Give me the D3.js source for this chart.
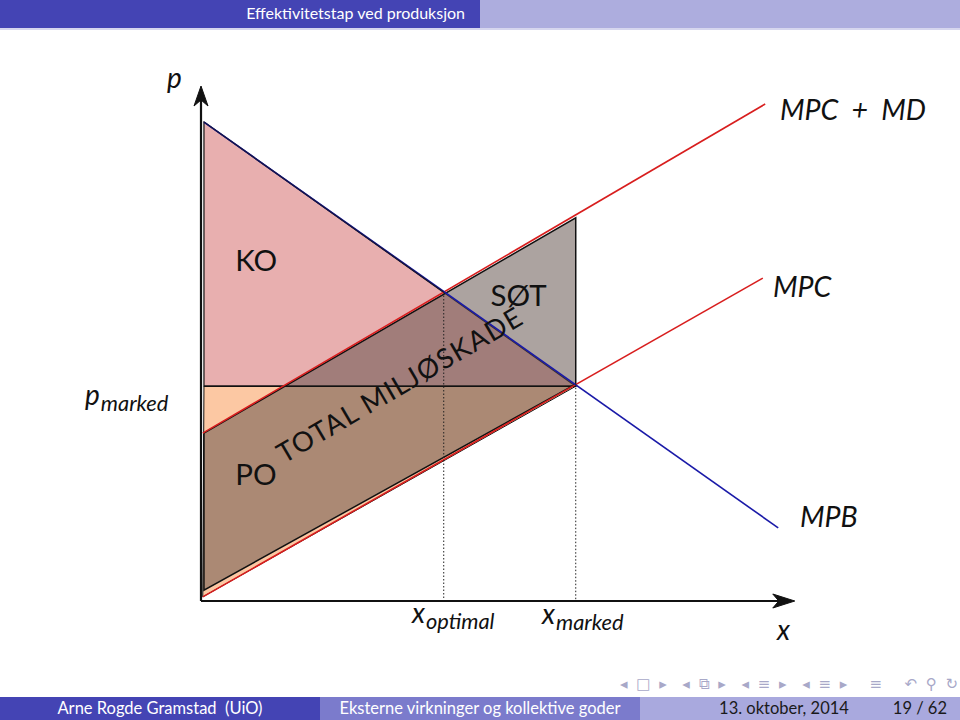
<!DOCTYPE html>
<html>
<head>
<meta charset="utf-8">
<script src="https://cdn.jsdelivr.net/npm/d3@7"></script>
<style>
  body { margin: 0; background: #fff; }
  svg { display: block; font-family: Lato, "Open Sans", sans-serif; }
</style>
</head>
<body>
<svg width="960" height="720"></svg>
<script>
// key points (quantity, price)
var mpb = [[0.05, 9.30], [9.75, 1.42]];
var mpc = [[0.03, 0.08], [9.49, 6.27]];
var mpcMd = [[0.03, 3.26], [9.53, 9.65]];
var xOptimal = 4.10, xMarked = 6.33, pMarked = 4.17;
var optPoint = [4.10, 6.00];
var mktPoint = [6.33, 4.21];

// areas
var koArea = [[0.05, 9.30], [6.33, 4.17], [0.05, 4.17]];
var poArea = [[0.05, 4.17], [6.33, 4.17], [0.03, 0.08]];
var damageArea = [[0.05, 3.26], [6.33, 7.44], [6.33, 4.21], [0.05, 0.21]];

var labels = [
  {t: 'KO', q: 0.58, p: 6.40},
  {t: 'SØT', q: 4.89, p: 5.73},
  {t: 'PO', q: 0.58, p: 2.25}
];

var svg = d3.select('svg');
var x = d3.scaleLinear().domain([0, 10]).range([201, 793]);
var y = d3.scaleLinear().domain([0, 10]).range([601, 86]);
var line = d3.line().x(function (d) { return x(d[0]); }).y(function (d) { return y(d[1]); });

// beamer header / footer
svg.append('rect').attr('x', 0).attr('y', 0).attr('width', 480).attr('height', 28).attr('fill', '#4444b4');
svg.append('rect').attr('x', 480).attr('y', 0).attr('width', 480).attr('height', 28).attr('fill', '#adadde');
svg.append('rect').attr('x', 0).attr('y', 28).attr('width', 960).attr('height', 2).attr('fill', '#d6d6ee');
svg.append('text').attr('x', 465).attr('y', 19).attr('text-anchor', 'end')
   .attr('fill', '#fff').attr('font-size', 16).text('Effektivitetstap ved produksjon');

var foot = [
  {x0: 0, x1: 320, c: '#4444b4'},
  {x0: 320, x1: 640, c: '#7b7bcc'},
  {x0: 640, x1: 960, c: '#a9a9de'}
];
svg.selectAll('rect.foot').data(foot).enter().append('rect')
   .attr('x', function (d) { return d.x0; }).attr('y', 697)
   .attr('width', function (d) { return d.x1 - d.x0; }).attr('height', 23)
   .attr('fill', function (d) { return d.c; });
svg.append('text').attr('x', 160).attr('y', 714).attr('text-anchor', 'middle').attr('fill', '#fff')
   .attr('font-size', 16.5).text('Arne Rogde Gramstad\u00a0 (UiO)');
svg.append('text').attr('x', 480).attr('y', 714).attr('text-anchor', 'middle').attr('fill', '#fff')
   .attr('font-size', 16.5).text('Eksterne virkninger og kollektive goder');
svg.append('text').attr('x', 784).attr('y', 714).attr('text-anchor', 'middle').attr('fill', '#1a1a1a')
   .attr('font-size', 16.5).text('13. oktober, 2014');
svg.append('text').attr('x', 947).attr('y', 714).attr('text-anchor', 'end').attr('fill', '#1a1a1a')
   .attr('font-size', 16.5).text('19 / 62');
svg.append('text').attr('x', 620).attr('y', 689).attr('fill', '#a8a8c8').attr('font-size', 15)
   .attr('font-family', 'DejaVu Sans').attr('letter-spacing', 2)
   .text('◂ □ ▸\u00a0 ◂ ⧉ ▸\u00a0 ◂ ≡ ▸\u00a0 ◂ ≡ ▸\u00a0\u00a0 ≡\u00a0\u00a0 ↶ ⚲ ↻');

// areas
svg.append('path').attr('d', line(koArea) + 'Z').attr('fill', '#e8afaf').attr('stroke', '#111').attr('stroke-width', 1.2);
svg.append('path').attr('d', line(poArea) + 'Z').attr('fill', '#fcc8a3').attr('stroke', '#111').attr('stroke-width', 1);
svg.append('path').attr('d', line(damageArea) + 'Z').attr('fill', 'rgb(96,78,72)').attr('fill-opacity', 0.52)
   .attr('stroke', '#111').attr('stroke-width', 1.5);

// market price line
svg.append('path').attr('d', line([[0.05, pMarked], [xMarked, pMarked]])).attr('stroke', '#111').attr('stroke-width', 1.5);

// curves
svg.append('path').attr('d', line(mpc)).attr('stroke', '#d81e1e').attr('stroke-width', 1.6).attr('fill', 'none');
svg.append('path').attr('d', line(mpcMd)).attr('stroke', '#d81e1e').attr('stroke-width', 1.6).attr('fill', 'none');
svg.append('path').attr('d', line(mpb)).attr('stroke', '#1a1aa8').attr('stroke-width', 1.6).attr('fill', 'none');
svg.append('path').attr('d', line([[0.05, 9.30], optPoint])).attr('stroke', '#111').attr('stroke-width', 1.4).attr('fill', 'none').attr('stroke-opacity', 0.6);

// dotted guides
[[optPoint, [xOptimal, 0]], [mktPoint, [xMarked, 0]]].forEach(function (seg) {
  svg.append('path').attr('d', line(seg)).attr('stroke', '#222').attr('stroke-width', 1)
     .attr('stroke-dasharray', '1.5,2');
});

// axes with arrows
svg.append('path').attr('d', line([[0, 0], [0, 9.9]])).attr('stroke', '#111').attr('stroke-width', 2.2);
svg.append('path').attr('d', line([[0, 0], [9.95, 0]])).attr('stroke', '#111').attr('stroke-width', 2.2);
var ay = [x(0), y(10)];
svg.append('path').attr('d', 'M' + ay[0] + ',' + ay[1] + ' l-7,20 l7,-6 l7,6 Z').attr('fill', '#111')
   .attr('stroke', '#111').attr('stroke-width', 1);
var ax = [x(10.03), y(0)];
svg.append('path').attr('d', 'M' + ax[0] + ',' + ax[1] + ' l-22,-7 l6,7 l-6,7 Z').attr('fill', '#111')
   .attr('stroke', '#111').attr('stroke-width', 1);

// area labels
svg.selectAll('text.area').data(labels).enter().append('text')
   .attr('x', function (d) { return x(d.q); }).attr('y', function (d) { return y(d.p); })
   .attr('font-size', 29.5).attr('fill', '#111').text(function (d) { return d.t; });

var ang = Math.atan2(y(3.26) - y(9.65), x(9.53) - x(0.03)) * 180 / Math.PI;
svg.append('text').attr('transform', 'translate(' + x(1.40) + ',' + y(2.66) + ') rotate(' + (-ang) + ')')
   .attr('font-size', 27.5).attr('letter-spacing', 1.3).attr('fill', '#111').text('TOTAL MILJØSKADE');

// curve labels
function mathLabel(px, py, main, sub, size) {
  var t = svg.append('text').attr('x', px).attr('y', py).attr('font-style', 'italic')
             .attr('font-size', size).attr('fill', '#111');
  t.append('tspan').text(main);
  if (sub) t.append('tspan').attr('dx', 1).attr('dy', 6).attr('font-size', size * 0.78).text(sub);
}
mathLabel(780, 120, 'MPC\u2002+\u2002MD', null, 28.5);
mathLabel(773, 297, 'MPC', null, 28.5);
mathLabel(800, 527, 'MPB', null, 28.5);
mathLabel(167, 88, 'p', null, 28);
mathLabel(85, 405, 'p', 'marked', 28);
mathLabel(412, 623, 'x', 'optimal', 28);
mathLabel(542, 624, 'x', 'marked', 28);
mathLabel(777, 640, 'x', null, 28);
</script>
</body>
</html>
